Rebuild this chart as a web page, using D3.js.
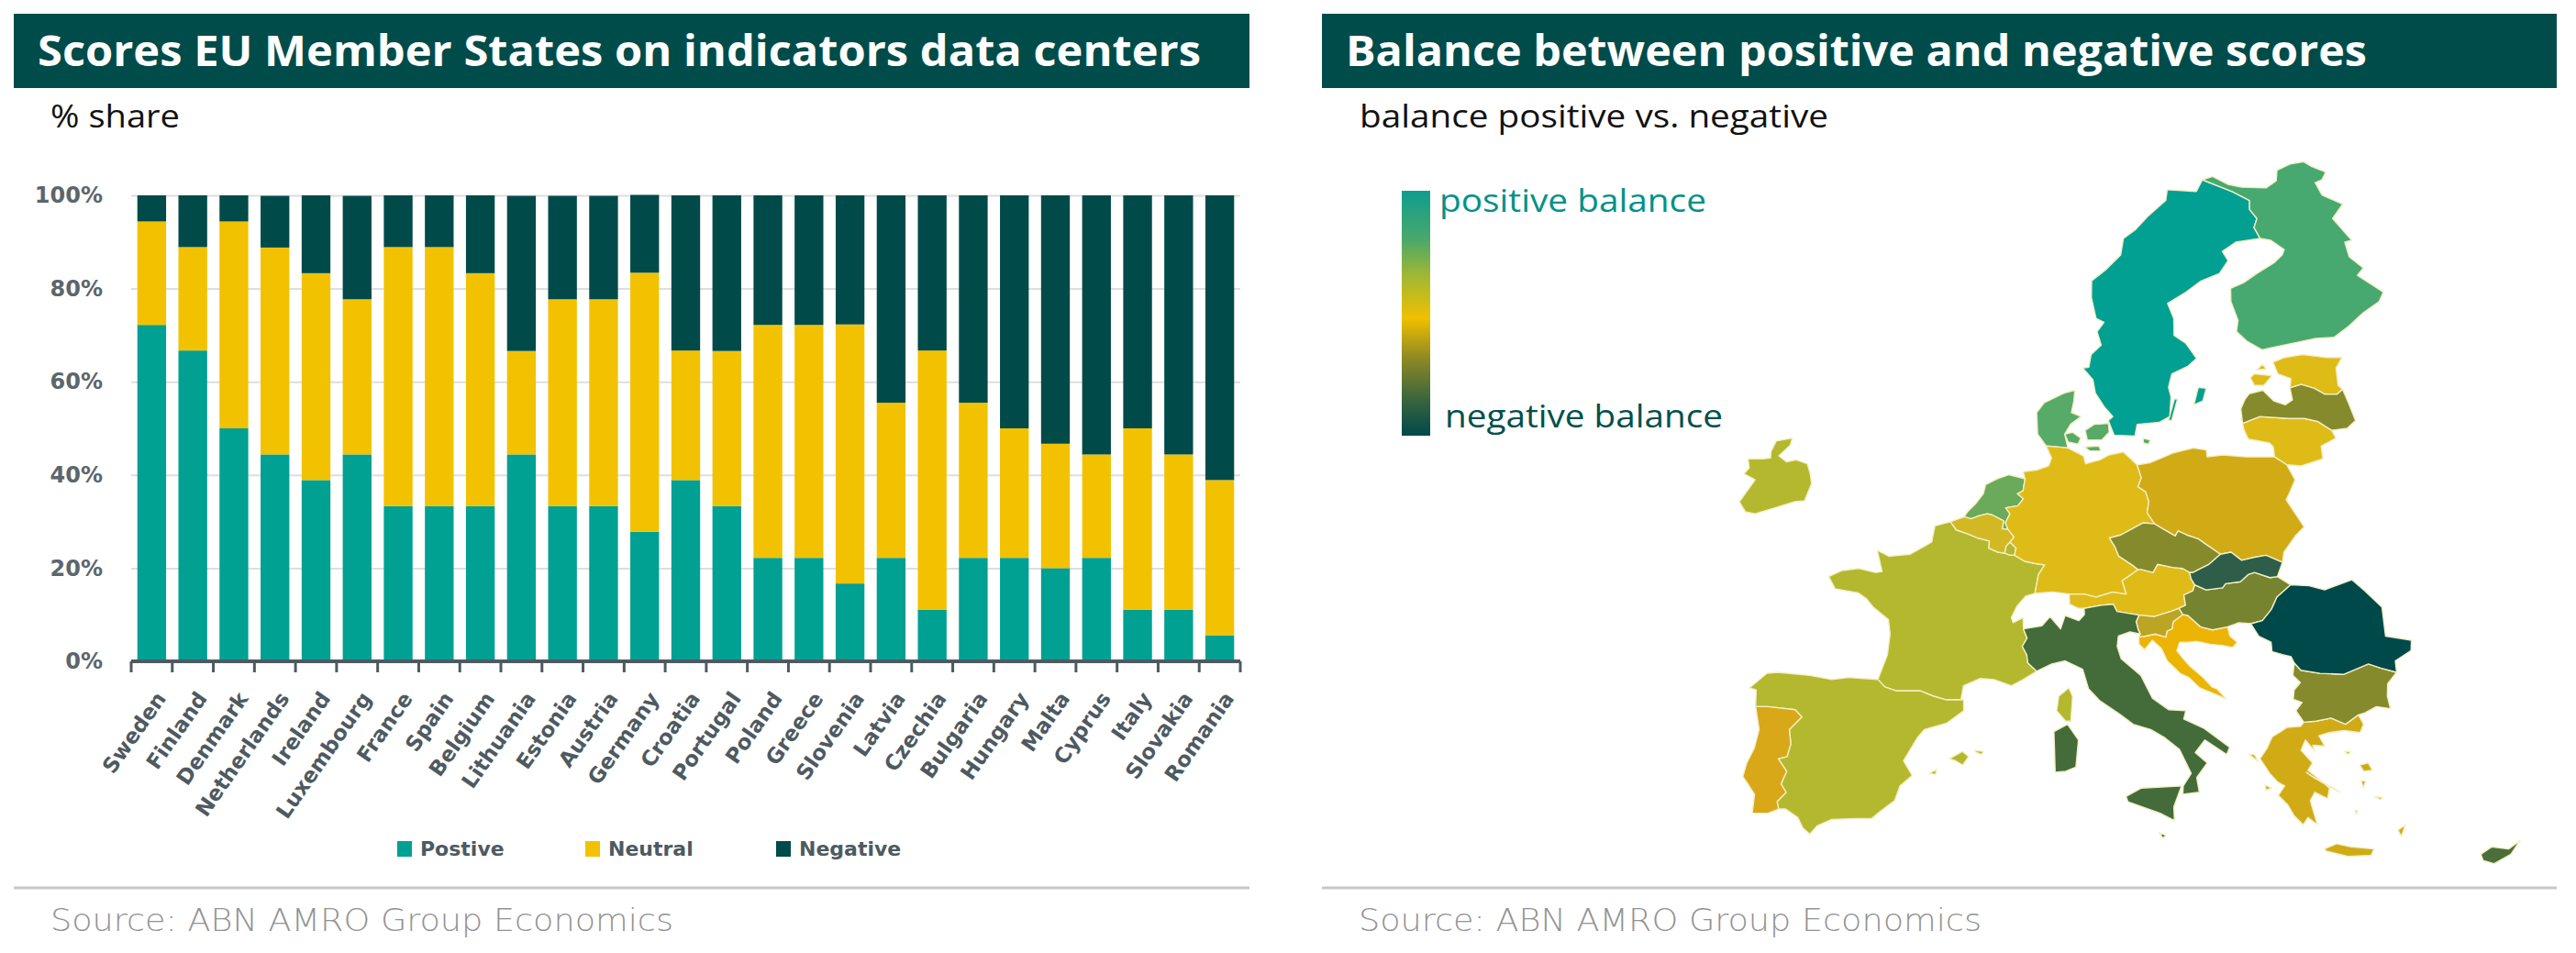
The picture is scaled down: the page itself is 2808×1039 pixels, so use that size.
<!DOCTYPE html>
<html>
<head>
<meta charset="utf-8">
<title>Scores EU Member States on indicators data centers</title>
<script src="https://cdn.jsdelivr.net/npm/d3@7"></script>
<style>
  body { margin: 0; background: #fff; }
  svg { display: block; }
</style>
</head>
<body>
<div id="chart"></div>
<script>
// ---- data ----
const countries = ['Sweden', 'Finland', 'Denmark', 'Netherlands', 'Ireland', 'Luxembourg', 'France', 'Spain',
  'Belgium', 'Lithuania', 'Estonia', 'Austria', 'Germany', 'Croatia', 'Portugal', 'Poland', 'Greece', 'Slovenia',
  'Latvia', 'Czechia', 'Bulgaria', 'Hungary', 'Malta', 'Cyprus', 'Italy', 'Slovakia', 'Romania'];
const positive = [72.2, 66.7, 50.0, 44.4, 38.9, 44.4, 33.3, 33.3, 33.3, 44.4, 33.3, 33.3, 27.8, 38.9, 33.3, 22.2,
  22.2, 16.7, 22.2, 11.1, 22.2, 22.2, 20.0, 22.2, 11.1, 11.1, 5.6];
const neutral = [22.2, 22.2, 44.4, 44.4, 44.4, 33.3, 55.6, 55.6, 50.0, 22.2, 44.4, 44.4, 55.6, 27.8, 33.3, 50.0,
  50.0, 55.6, 33.3, 55.6, 33.3, 27.8, 26.7, 22.2, 38.9, 33.3, 33.3];
const negative = [5.6, 11.1, 5.6, 11.1, 16.7, 22.2, 11.1, 11.1, 16.7, 33.3, 22.2, 22.2, 16.7, 33.3, 33.4, 27.8,
  27.8, 27.7, 44.5, 33.3, 44.5, 50.0, 53.3, 55.6, 50.0, 55.6, 61.1];
const seriesKeys = ['positive', 'neutral', 'negative'];
const seriesNames = ['Postive', 'Neutral', 'Negative'];
const yTicks = [0, 20, 40, 60, 80, 100];

// balance (positive minus negative) -> map colour
const balanceStops = [-55.6, -44.4, -38.9, -33.3, -27.8, -22.2, -11.1, -5.6, 0, 5.6, 11.1, 16.7, 22.2, 33.3, 44.4, 55.6, 66.7];
const balanceColors = ['#00494a', '#2e5e4a', '#436c3a', '#4a6f39', '#768430', '#858a2c', '#bca424', '#d0ab16',
  '#d9a818', '#ecb404', '#dfbb18', '#d2b924', '#b4b82e', '#6aaa5a', '#58aa68', '#48a970', '#00a093'];
const legendStops = [0, 0.2, 0.35, 0.52, 0.68, 0.85, 1];
const legendColors = ['#0f9d8f', '#4aa86a', '#a2b832', '#f0c000', '#908a22', '#3a663e', '#00484a'];

// rough country outlines, [lon, lat]
const outlines = {
  Sweden: [
    [[11.2,58.9],[11.8,58.3],[11.9,57.6],[12.4,56.9],[12.9,56.4],[12.6,56.2],[12.9,55.45],[14.2,55.4],[14.4,56.0],[15.8,56.1],[16.5,56.4],[16.7,57.4],[16.6,57.9],[16.9,58.6],[18.0,59.0],[18.6,59.4],[18.0,60.2],[17.3,60.6],[17.4,61.5],[17.1,62.3],[18.4,62.9],[19.5,63.5],[20.8,63.9],[21.5,64.6],[21.2,65.1],[22.2,65.6],[23.9,65.8],[23.6,66.4],[23.9,66.9],[23.5,67.4],[23.6,67.9],[22.5,68.4],[20.55,69.06],[20.0,68.4],[18.0,68.5],[17.8,67.9],[16.4,67.0],[15.5,66.3],[14.6,65.8],[14.3,64.9],[13.2,64.1],[12.2,63.5],[12.1,62.6],[12.3,61.5],[12.8,61.3],[12.3,60.8],[12.5,60.1],[11.8,59.6],[11.6,58.95]],
    [[18.1,57.0],[18.5,57.9],[19.0,57.85],[18.7,57.2]],
    [[16.4,56.2],[16.9,57.3],[17.1,57.3],[16.6,56.2]]
  ],
  Finland: [
    [[20.55,69.06],[21.3,69.25],[22.3,68.8],[23.2,68.65],[24.9,68.6],[25.7,69.0],[25.9,69.6],[26.9,69.95],[27.9,70.08],[28.4,69.8],[29.3,69.5],[28.9,69.05],[28.4,68.9],[28.7,68.2],[30.0,67.7],[29.1,66.9],[30.1,65.7],[29.6,65.6],[29.7,64.8],[30.5,64.2],[30.0,63.8],[31.5,62.9],[31.1,62.4],[29.9,61.8],[28.8,61.1],[27.7,60.5],[26.5,60.45],[25.0,60.2],[23.5,59.95],[22.9,59.85],[22.0,60.3],[21.4,60.8],[21.6,61.4],[21.3,62.4],[21.4,63.1],[22.3,63.4],[23.3,63.9],[24.6,64.5],[25.2,64.9],[25.4,65.2],[24.6,65.7],[23.9,65.8],[23.6,66.4],[23.9,66.9],[23.5,67.4],[23.6,67.9],[22.5,68.4]]
  ],
  Denmark: [
    [[8.6,54.9],[8.1,55.5],[8.1,56.6],[8.6,57.1],[9.9,57.6],[10.6,57.75],[10.5,57.2],[10.3,56.6],[10.9,56.4],[10.2,56.0],[9.8,55.5],[9.95,54.8],[9.4,54.85]],
    [[9.8,55.5],[10.3,55.6],[10.8,55.3],[10.6,55.0],[10.0,55.1]],
    [[11.1,55.7],[11.7,56.0],[12.6,56.05],[12.6,55.6],[12.1,55.2],[11.2,55.2]],
    [[11.0,54.85],[11.9,54.9],[12.0,54.65],[11.3,54.65]],
    [[14.7,55.3],[15.15,55.2],[15.0,54.98],[14.7,55.05]]
  ],
  Netherlands: [
    [[3.4,51.35],[3.6,51.6],[4.1,52.0],[4.6,52.5],[4.75,52.95],[5.5,53.25],[6.2,53.45],[7.2,53.25],[7.05,52.65],[6.7,52.5],[7.05,52.25],[6.7,51.9],[5.95,51.8],[6.2,51.5],[5.9,51.05],[6.05,50.73],[5.7,50.75],[5.8,51.15],[5.1,51.45],[4.8,51.5],[4.3,51.4],[3.8,51.25]]
  ],
  Ireland: [
    [[-6.4,52.15],[-6.0,53.0],[-6.1,53.5],[-6.3,54.0],[-7.0,54.2],[-7.6,54.1],[-8.1,54.4],[-7.4,54.95],[-7.3,55.3],[-8.3,55.15],[-8.6,54.6],[-8.6,54.3],[-9.1,54.25],[-10.0,54.25],[-9.9,53.8],[-10.2,53.5],[-9.5,53.2],[-9.9,52.7],[-10.4,52.1],[-10.0,51.6],[-9.4,51.5],[-8.2,51.8],[-7.0,52.1]]
  ],
  Luxembourg: [
    [[5.8,49.55],[5.9,49.9],[6.15,50.1],[6.5,49.8],[6.4,49.45],[6.1,49.45]]
  ],
  France: [
    [[-1.8,43.4],[-1.25,44.6],[-1.1,45.6],[-1.2,46.3],[-2.1,46.9],[-2.5,47.3],[-3.0,47.6],[-4.4,47.8],[-4.8,48.4],[-4.0,48.7],[-3.0,48.8],[-2.0,48.6],[-1.6,48.65],[-1.9,49.7],[-1.2,49.4],[0.1,49.5],[1.4,50.1],[1.6,50.9],[2.55,51.1],[2.9,50.7],[3.6,50.5],[4.2,50.3],[4.9,50.15],[4.85,49.8],[5.4,49.6],[5.8,49.55],[6.1,49.45],[6.4,49.45],[7.0,49.15],[7.6,49.05],[8.2,48.97],[7.8,48.5],[7.55,47.58],[7.0,47.45],[6.45,46.95],[6.1,46.4],[6.2,46.15],[6.8,46.4],[6.8,45.85],[7.0,45.4],[6.7,45.0],[6.95,44.6],[7.0,44.2],[7.5,43.8],[6.7,43.4],[6.0,43.1],[5.0,43.4],[4.2,43.45],[3.2,43.1],[3.05,42.45],[2.2,42.42],[1.45,42.6],[0.7,42.85],[-0.7,42.85],[-1.4,43.05]],
    [[9.35,43.0],[9.55,42.6],[9.4,41.4],[9.1,41.4],[8.6,41.9],[8.75,42.6]]
  ],
  Spain: [
    [[-8.9,42.1],[-8.9,42.9],[-9.3,43.0],[-8.3,43.7],[-7.7,43.75],[-5.8,43.6],[-4.5,43.4],[-3.5,43.5],[-1.8,43.4],[-1.4,43.05],[-0.7,42.85],[0.7,42.85],[1.45,42.6],[2.2,42.42],[3.2,42.43],[3.2,41.9],[2.2,41.3],[0.9,41.0],[0.5,40.6],[-0.3,39.5],[0.2,38.8],[-0.5,38.3],[-0.8,37.6],[-1.6,37.1],[-2.1,36.75],[-3.0,36.75],[-4.4,36.7],[-5.2,36.4],[-5.6,36.0],[-6.0,36.3],[-6.3,36.8],[-7.0,37.2],[-7.4,37.2],[-7.5,37.55],[-7.0,38.0],[-7.3,38.4],[-7.0,39.0],[-7.5,39.6],[-7.0,39.7],[-6.8,40.3],[-6.9,41.0],[-6.2,41.6],[-6.6,41.95],[-8.2,42.1]],
    [[2.35,39.6],[3.1,39.95],[3.45,39.7],[3.1,39.3],[2.7,39.5]],
    [[3.8,40.0],[4.3,39.95],[4.2,39.8],[3.85,39.92]],
    [[1.2,38.9],[1.6,39.1],[1.55,38.85]]
  ],
  Belgium: [
    [[2.55,51.1],[3.4,51.35],[3.8,51.25],[4.3,51.4],[4.8,51.5],[5.1,51.45],[5.8,51.15],[5.7,50.75],[6.05,50.73],[6.4,50.35],[6.15,50.1],[5.9,49.9],[5.8,49.55],[5.4,49.6],[4.85,49.8],[4.9,50.15],[4.2,50.3],[3.6,50.5],[2.9,50.7]]
  ],
  Lithuania: [
    [[21.05,56.05],[22.2,56.4],[24.0,56.3],[25.0,56.3],[25.8,56.15],[26.6,55.7],[26.8,55.3],[25.8,54.9],[25.8,54.25],[24.4,53.9],[23.5,53.95],[22.8,54.35],[22.8,54.85],[22.6,55.05],[21.3,55.25],[21.1,55.7]]
  ],
  Estonia: [
    [[23.5,59.2],[24.3,59.45],[25.5,59.6],[27.0,59.45],[28.0,59.45],[27.5,58.9],[27.45,58.0],[27.7,57.8],[27.3,57.55],[26.5,57.55],[25.9,57.85],[25.1,58.05],[24.35,57.87],[24.5,58.35],[23.7,58.6]],
    [[21.9,58.4],[22.2,58.6],[23.3,58.5],[22.7,58.0],[22.1,58.0]],
    [[22.4,58.8],[22.8,59.1],[23.0,58.85]]
  ],
  Austria: [
    [[13.8,48.75],[14.0,48.75],[14.7,48.6],[15.0,49.0],[15.9,48.85],[16.5,48.8],[16.9,48.6],[16.95,48.3],[17.15,48.0],[17.0,47.7],[16.45,47.5],[16.5,47.0],[16.1,46.85],[15.6,46.7],[14.6,46.45],[13.7,46.52],[12.4,46.7],[12.2,47.05],[11.5,47.0],[10.45,46.85],[10.1,46.85],[9.6,47.05],[9.6,47.55],[10.5,47.55],[11.2,47.4],[12.2,47.65],[13.0,47.55],[12.8,48.2],[13.45,48.55]]
  ],
  Germany: [
    [[7.2,53.25],[7.1,53.6],[8.0,53.7],[8.7,53.9],[8.9,54.3],[8.6,54.9],[9.4,54.85],[9.95,54.8],[10.9,54.4],[11.0,54.0],[11.9,54.2],[12.5,54.45],[13.4,54.6],[14.2,53.95],[14.4,53.3],[14.15,52.85],[14.6,52.6],[14.75,52.1],[14.6,51.55],[15.0,51.0],[14.3,51.05],[13.6,50.75],[12.9,50.45],[12.2,50.3],[12.5,49.85],[12.7,49.4],[13.5,48.95],[13.8,48.75],[13.45,48.55],[12.8,48.2],[13.0,47.55],[12.2,47.65],[11.2,47.4],[10.5,47.55],[9.6,47.55],[8.6,47.65],[7.55,47.58],[7.8,48.5],[8.2,48.97],[7.6,49.05],[7.0,49.15],[6.4,49.45],[6.5,49.8],[6.15,50.1],[6.4,50.35],[6.05,50.73],[5.9,51.05],[6.2,51.5],[5.95,51.8],[6.7,51.9],[7.05,52.25],[6.7,52.5],[7.05,52.65]]
  ],
  Croatia: [
    [[16.3,46.55],[16.6,46.5],[17.3,45.95],[18.0,45.8],[18.9,45.95],[19.0,45.5],[19.4,45.2],[19.1,44.95],[18.5,45.05],[17.8,45.1],[17.0,45.25],[16.5,45.2],[16.0,45.2],[15.8,44.8],[16.1,44.45],[16.5,44.05],[17.3,43.45],[17.7,43.05],[18.0,42.95],[18.5,42.45],[18.0,42.65],[17.0,43.0],[16.4,43.5],[15.9,43.7],[15.2,44.3],[14.9,44.9],[14.4,45.3],[13.9,44.85],[13.6,45.1],[13.6,45.45],[14.0,45.5],[14.6,45.6],[15.2,45.45],[15.3,45.75],[15.6,45.85],[15.7,46.2]]
  ],
  Portugal: [
    [[-8.9,42.1],[-8.2,42.1],[-6.6,41.95],[-6.2,41.6],[-6.9,41.0],[-6.8,40.3],[-7.0,39.7],[-7.5,39.6],[-7.0,39.0],[-7.3,38.4],[-7.0,38.0],[-7.5,37.55],[-7.4,37.2],[-8.0,37.0],[-8.9,37.0],[-8.8,37.9],[-9.2,38.4],[-9.5,38.75],[-9.3,39.4],[-8.9,40.1],[-8.65,41.0]]
  ],
  Poland: [
    [[14.2,53.95],[15.0,54.05],[16.5,54.55],[17.8,54.8],[18.6,54.7],[18.6,54.35],[19.6,54.45],[21.0,54.35],[22.8,54.35],[23.5,53.95],[23.9,53.2],[23.5,52.6],[23.2,52.2],[23.6,51.6],[24.1,50.85],[23.5,50.4],[22.7,49.6],[22.55,49.1],[21.6,49.45],[20.9,49.35],[20.1,49.2],[19.5,49.6],[18.85,49.5],[18.0,50.0],[17.6,50.25],[16.9,50.45],[16.4,50.65],[16.2,50.4],[15.4,50.8],[15.0,51.0],[14.6,51.55],[14.75,52.1],[14.6,52.6],[14.15,52.85],[14.4,53.3]]
  ],
  Greece: [
    [[26.1,41.7],[26.35,41.25],[26.1,40.85],[25.2,40.95],[24.3,40.85],[23.7,40.7],[24.0,40.2],[23.3,40.25],[23.4,39.95],[22.9,40.5],[22.6,40.0],[23.2,39.4],[22.9,39.05],[23.4,38.7],[24.05,38.2],[23.9,37.7],[23.2,38.0],[22.9,37.6],[23.2,36.45],[22.7,36.8],[22.4,36.45],[21.9,36.9],[21.6,37.4],[21.1,37.85],[21.5,38.3],[21.1,38.5],[20.7,38.9],[20.2,39.6],[20.65,40.1],[21.0,40.65],[21.9,41.1],[22.7,41.15],[22.9,41.35],[23.6,41.4],[24.5,41.55],[25.3,41.25]],
    [[23.5,35.3],[24.2,35.55],[25.0,35.4],[26.3,35.3],[26.1,35.0],[24.8,34.95],[23.6,35.2]],
    [[22.8,38.95],[23.6,38.5],[24.6,38.0],[24.3,38.2],[23.2,38.7]],
    [[25.9,39.3],[26.4,39.4],[26.6,39.05],[26.1,39.0]],
    [[27.75,36.2],[28.2,36.45],[27.9,35.9]],
    [[25.9,38.55],[26.15,38.55],[26.0,38.2]],
    [[19.6,39.8],[19.9,39.8],[20.1,39.45]],
    [[20.4,38.35],[20.75,38.2],[20.4,38.1]],
    [[25.4,37.15],[25.55,37.1],[25.45,36.95]],
    [[26.6,37.8],[27.05,37.75],[26.9,37.65]],
    [[25.1,39.95],[25.45,39.95],[25.3,39.8]]
  ],
  Slovenia: [
    [[13.7,46.52],[14.6,46.45],[15.6,46.7],[16.1,46.85],[16.3,46.55],[15.7,46.2],[15.6,45.85],[15.3,45.75],[15.2,45.45],[14.6,45.6],[14.0,45.5],[13.6,45.45],[13.7,45.6],[13.6,45.8],[13.5,46.2]]
  ],
  Latvia: [
    [[21.05,56.05],[21.05,56.8],[21.4,57.3],[21.7,57.57],[22.6,57.75],[23.2,57.2],[23.9,57.0],[24.4,57.25],[24.35,57.87],[25.1,58.05],[25.9,57.85],[26.5,57.55],[27.3,57.55],[27.7,57.8],[27.9,57.2],[28.2,56.2],[27.6,55.8],[26.6,55.7],[25.8,56.15],[25.0,56.3],[24.0,56.3],[22.2,56.4]]
  ],
  Czechia: [
    [[14.3,51.05],[15.0,51.0],[15.4,50.8],[16.2,50.4],[16.4,50.65],[16.9,50.45],[17.6,50.25],[18.0,50.0],[18.85,49.5],[18.1,49.0],[17.6,48.8],[17.1,48.6],[16.9,48.6],[16.5,48.8],[15.9,48.85],[15.0,49.0],[14.7,48.6],[14.0,48.75],[13.8,48.75],[13.5,48.95],[12.7,49.4],[12.5,49.85],[12.2,50.3],[12.9,50.45],[13.6,50.75]]
  ],
  Bulgaria: [
    [[22.65,44.2],[23.0,43.85],[24.1,43.7],[25.5,43.65],[27.0,44.15],[27.7,43.95],[28.6,43.75],[28.0,43.2],[27.9,42.6],[28.0,42.0],[27.2,42.1],[26.5,41.8],[26.1,41.7],[25.3,41.25],[24.5,41.55],[23.6,41.4],[22.9,41.35],[22.5,41.9],[22.9,42.3],[22.4,42.45],[22.5,42.9],[22.9,43.25],[22.5,43.6]]
  ],
  Hungary: [
    [[16.1,46.85],[16.5,47.0],[16.45,47.5],[17.0,47.7],[17.15,48.0],[17.8,47.75],[18.8,47.85],[19.0,48.05],[19.9,48.15],[20.4,48.5],[20.8,48.6],[21.7,48.35],[22.15,48.4],[22.9,48.0],[22.0,47.4],[21.6,46.8],[21.0,46.25],[20.3,46.1],[19.6,46.15],[18.9,45.95],[18.0,45.8],[17.3,45.95],[16.6,46.5],[16.3,46.55]]
  ],
  Malta: [
    [[14.2,36.08],[14.55,35.95],[14.45,35.82],[14.35,35.87]]
  ],
  Cyprus: [
    [[32.3,35.05],[32.95,35.4],[33.9,35.3],[34.6,35.7],[34.0,35.05],[33.0,34.6],[32.4,34.75]]
  ],
  Italy: [
    [[13.7,46.52],[13.5,46.2],[13.6,45.8],[13.7,45.6],[13.1,45.7],[12.4,45.5],[12.3,45.0],[12.5,44.4],[13.6,43.6],[14.2,42.5],[15.1,41.95],[16.1,41.9],[15.95,41.5],[17.1,41.05],[18.5,40.15],[18.3,39.8],[17.1,40.5],[16.5,39.9],[17.15,39.4],[16.5,38.7],[16.6,38.0],[15.65,37.9],[15.7,38.3],[16.2,38.9],[15.6,40.05],[14.8,40.6],[14.0,41.0],[13.0,41.25],[12.3,41.7],[11.1,42.4],[10.5,42.95],[10.2,43.9],[9.2,44.3],[8.4,44.15],[7.5,43.8],[7.0,44.2],[6.95,44.6],[6.7,45.0],[7.0,45.4],[6.8,45.85],[7.9,46.0],[8.4,46.45],[9.0,45.85],[9.3,46.5],[10.1,46.25],[10.45,46.55],[10.45,46.85],[11.5,47.0],[12.2,47.05],[12.4,46.7]],
    [[12.4,37.8],[13.3,38.2],[15.6,38.3],[15.1,37.3],[15.1,36.65],[14.3,37.0],[12.5,37.55]],
    [[8.4,40.9],[9.2,41.25],[9.8,40.5],[9.6,39.2],[9.0,39.0],[8.4,38.95],[8.4,39.9]]
  ],
  Slovakia: [
    [[18.85,49.5],[19.5,49.6],[20.1,49.2],[20.9,49.35],[21.6,49.45],[22.55,49.1],[22.15,48.4],[21.7,48.35],[20.8,48.6],[20.4,48.5],[19.9,48.15],[19.0,48.05],[18.8,47.85],[17.8,47.75],[17.15,48.0],[16.95,48.3],[16.9,48.6],[17.1,48.6],[17.6,48.8],[18.1,49.0]]
  ],
  Romania: [
    [[22.9,48.0],[24.0,47.95],[24.9,47.75],[26.6,48.25],[27.3,47.7],[28.2,46.9],[28.2,45.5],[29.7,45.3],[29.6,44.8],[28.6,44.3],[28.6,43.75],[27.7,43.95],[27.0,44.15],[25.5,43.65],[24.1,43.7],[23.0,43.85],[22.65,44.2],[22.5,44.5],[22.0,44.6],[21.4,44.75],[21.4,45.2],[20.7,45.5],[20.3,46.1],[21.0,46.25],[21.6,46.8],[22.0,47.4]]
  ]
};

// ---- layout ----
const W = 2808, H = 1039;
const darkTeal = '#004c4a';
const colors = { positive: '#00a093', neutral: '#f2c200', negative: '#004b49' };
const axisGrey = '#4e5a61';

const svg = d3.select('#chart').append('svg')
  .attr('width', W)
  .attr('height', H)
  .style('background', '#fff');

// title bars, subtitles, separators, sources
const panels = [
  { x0: 15, x1: 1362, title: 'Scores EU Member States on indicators data centers', titleW: 1268,
    sub: '% share', subX: 55, subW: 141, srcX: 55 },
  { x0: 1441, x1: 2787, title: 'Balance between positive and negative scores', titleW: 1113,
    sub: 'balance positive vs. negative', subX: 1482, subW: 511, srcX: 1481 }
];
panels.forEach(p => {
  svg.append('rect')
    .attr('x', p.x0).attr('y', 15)
    .attr('width', p.x1 - p.x0).attr('height', 81)
    .attr('fill', darkTeal);
  svg.append('text')
    .attr('x', p.x0 + 26).attr('y', 72)
    .attr('font-family', '"Open Sans", sans-serif')
    .attr('font-weight', 700)
    .attr('font-size', 47)
    .attr('fill', '#fff')
    .attr('textLength', p.titleW)
    .attr('lengthAdjust', 'spacingAndGlyphs')
    .text(p.title);
  svg.append('text')
    .attr('x', p.subX).attr('y', 139)
    .attr('font-family', '"Open Sans", sans-serif')
    .attr('font-size', 35)
    .attr('fill', '#111')
    .attr('textLength', p.subW)
    .attr('lengthAdjust', 'spacingAndGlyphs')
    .text(p.sub);
  svg.append('line')
    .attr('x1', p.x0).attr('x2', p.x1)
    .attr('y1', 968).attr('y2', 968)
    .attr('stroke', '#c8c8c8')
    .attr('stroke-width', 3);
  svg.append('text')
    .attr('x', p.srcX).attr('y', 1015)
    .attr('font-family', '"DejaVu Sans", sans-serif')
    .attr('font-weight', 200)
    .attr('font-size', 34)
    .attr('fill', '#939393')
    .attr('textLength', 679)
    .attr('lengthAdjust', 'spacingAndGlyphs')
    .text('Source: ABN AMRO Group Economics');
});

// ---- stacked bar chart ----
const plot = { left: 143, right: 1352, top: 213, bottom: 721 };

const table = countries.map((c, i) => ({ country: c, positive: positive[i], neutral: neutral[i], negative: negative[i] }));
const stacked = d3.stack().keys(seriesKeys)(table);

const x = d3.scaleBand()
  .domain(countries)
  .range([plot.left, plot.right])
  .paddingInner(0.3)
  .paddingOuter(0.15);
const y = d3.scaleLinear().domain([0, 100]).range([plot.bottom, plot.top]);

const gy = svg.append('g')
  .attr('transform', `translate(${plot.left},0)`)
  .call(d3.axisLeft(y)
    .tickValues(yTicks)
    .tickSize(-(plot.right - plot.left))
    .tickPadding(31)
    .tickFormat(d => d + '%'));
gy.select('.domain').remove();
gy.selectAll('.tick line').attr('stroke', '#dedede').attr('stroke-width', 2);
gy.selectAll('.tick text')
  .attr('font-family', '"DejaVu Sans", sans-serif')
  .attr('font-weight', 700)
  .attr('font-size', 24)
  .attr('fill', '#5b666d');

svg.append('g')
  .selectAll('g')
  .data(stacked)
  .join('g')
    .attr('fill', s => colors[s.key])
  .selectAll('rect')
  .data(s => s)
  .join('rect')
    .attr('x', d => x(d.data.country))
    .attr('y', d => y(d[1]))
    .attr('width', x.bandwidth())
    .attr('height', d => y(d[0]) - y(d[1]));

// baseline and ticks between bars
const step = x.step();
const boundaries = d3.range(countries.length + 1).map(i => plot.left + i * step);
svg.append('line')
  .attr('x1', plot.left).attr('x2', plot.right)
  .attr('y1', plot.bottom).attr('y2', plot.bottom)
  .attr('stroke', axisGrey)
  .attr('stroke-width', 4);
svg.append('g')
  .selectAll('line')
  .data(boundaries)
  .join('line')
    .attr('x1', d => d).attr('x2', d => d)
    .attr('y1', plot.bottom).attr('y2', plot.bottom + 12)
    .attr('stroke', axisGrey)
    .attr('stroke-width', 3);

svg.append('g')
  .selectAll('text')
  .data(countries)
  .join('text')
    .attr('transform', d => `translate(${x(d) + x.bandwidth() / 2 + 10},757) rotate(-55)`)
    .attr('text-anchor', 'end')
    .attr('dy', '0.35em')
    .attr('font-family', '"DejaVu Sans", sans-serif')
    .attr('font-weight', 700)
    .attr('font-size', 23)
    .attr('fill', '#4e5a61')
    .text(d => d);

// legend
const legendX = [433, 638, 846];
const legend = svg.append('g')
  .selectAll('g')
  .data(seriesKeys)
  .join('g')
    .attr('transform', (d, i) => `translate(${legendX[i]},917)`);
legend.append('rect')
  .attr('width', 16).attr('height', 17)
  .attr('fill', d => colors[d]);
legend.append('text')
  .attr('x', 25).attr('y', 16)
  .attr('font-family', '"DejaVu Sans", sans-serif')
  .attr('font-weight', 700)
  .attr('font-size', 22)
  .attr('fill', '#4e5a61')
  .text((d, i) => seriesNames[i]);

// ---- map ----
const balance = countries.map((c, i) => positive[i] - negative[i]);
const color = d3.scaleLinear().domain(balanceStops).range(balanceColors);

const features = countries.map((c, i) => {
  const rings = outlines[c].map(r => {
    const ring = r.concat([r[0]]);
    const area = d3.geoArea({ type: 'Polygon', coordinates: [ring] });
    return area > 2 * Math.PI ? [ring.slice().reverse()] : [ring];
  });
  return { type: 'Feature', properties: { name: c, balance: balance[i] },
    geometry: { type: 'MultiPolygon', coordinates: rings } };
});

// Natural Earth, a touch wider (the source map looks Robinson-like)
const widen = 1.04;
const projection = d3.geoProjection((l, p) => {
    const [px, py] = d3.geoNaturalEarth1Raw(l, p);
    return [px * widen, py];
  })
  .fitExtent([[1896, 176], [2747, 942]], { type: 'FeatureCollection', features });
const path = d3.geoPath(projection);

svg.append('g')
  .selectAll('path')
  .data(features)
  .join('path')
    .attr('d', path)
    .attr('fill', d => color(d.properties.balance))
    .attr('stroke', '#f3eec4')
    .attr('stroke-width', 1.4)
    .attr('stroke-linejoin', 'round');

// colour legend
const grad = svg.append('defs').append('linearGradient')
  .attr('id', 'balanceGrad')
  .attr('x1', 0).attr('y1', 0).attr('x2', 0).attr('y2', 1);
grad.selectAll('stop')
  .data(legendStops)
  .join('stop')
    .attr('offset', d => d)
    .attr('stop-color', (d, i) => legendColors[i]);
svg.append('rect')
  .attr('x', 1528).attr('y', 208)
  .attr('width', 31).attr('height', 267)
  .attr('fill', 'url(#balanceGrad)');
svg.append('text')
  .attr('x', 1569).attr('y', 231)
  .attr('font-family', '"Open Sans", sans-serif')
  .attr('font-size', 34)
  .attr('fill', '#00918a')
  .attr('textLength', 291)
  .attr('lengthAdjust', 'spacingAndGlyphs')
  .text('positive balance');
svg.append('text')
  .attr('x', 1575).attr('y', 466)
  .attr('font-family', '"Open Sans", sans-serif')
  .attr('font-size', 34)
  .attr('fill', '#00504c')
  .attr('textLength', 303)
  .attr('lengthAdjust', 'spacingAndGlyphs')
  .text('negative balance');
</script>
</body>
</html>
